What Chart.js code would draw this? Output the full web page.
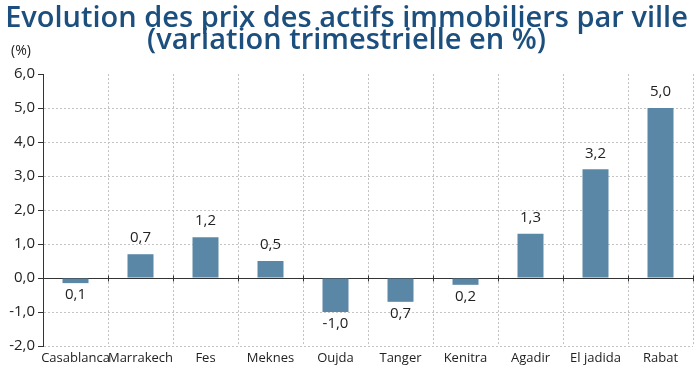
<!DOCTYPE html>
<html>
<head>
<meta charset="utf-8">
<script src="https://cdn.jsdelivr.net/npm/chart.js@4.4.1/dist/chart.umd.min.js"></script>
<style>
  html, body { margin: 0; padding: 0; background: #fff; }
  #wrap { width: 700px; height: 370px; position: relative; }
</style>
</head>
<body>
<div id="wrap"><canvas id="prix"></canvas></div>
<script>
// villes et variations trimestrielles (%)
var villes = ['Casablanca', 'Marrakech', 'Fes', 'Meknes', 'Oujda', 'Tanger', 'Kenitra', 'Agadir', 'El jadida', 'Rabat'];
var variations = [-0.15, 0.7, 1.2, 0.5, -1.0, -0.7, -0.2, 1.3, 3.2, 5.0];
// etiquettes telles qu'elles apparaissent sur le graphique
var etiquettes = ['0,1', '0,7', '1,2', '0,5', '-1,0', '0,7', '0,2', '1,3', '3,2', '5,0'];
var yMin = -2, yMax = 6, yPas = 1;

var police = "'Open Sans', 'Noto Sans', sans-serif";

// ligne du zero + valeurs au-dessus / en dessous des barres
var pluginValeurs = {
  id: 'valeurs',
  beforeDatasetsDraw: function(chart) {
    var ctx = chart.ctx, y = chart.scales.y;
    var y0 = Math.round(y.getPixelForValue(0)) + 0.5;
    ctx.save();
    ctx.strokeStyle = '#333';
    ctx.lineWidth = 1;
    ctx.beginPath();
    ctx.moveTo(chart.chartArea.left, y0);
    ctx.lineTo(chart.chartArea.right, y0);
    ctx.stroke();
    // petites graduations aux separations
    var pas = (chart.chartArea.right - chart.chartArea.left) / villes.length;
    for (var i = 1; i <= villes.length; i++) {
      var xs = Math.round(chart.chartArea.left + i * pas) + 0.5;
      ctx.beginPath();
      ctx.moveTo(xs, y0 - 3);
      ctx.lineTo(xs, y0 + 3);
      ctx.stroke();
    }
    ctx.restore();
  },
  afterDatasetsDraw: function(chart) {
    var ctx = chart.ctx;
    var meta = chart.getDatasetMeta(0);
    ctx.save();
    ctx.font = '15px ' + police;
    ctx.fillStyle = '#222';
    ctx.textAlign = 'center';
    ctx.textBaseline = 'middle';
    meta.data.forEach(function(bar, i) {
      var v = variations[i];
      var ty = v >= 0 ? bar.y - 16 : bar.y + 12;
      ctx.fillText(etiquettes[i], bar.x, ty);
    });
    ctx.restore();
  }
};

var ctx = document.getElementById('prix').getContext('2d');
new Chart(ctx, {
  type: 'bar',
  data: {
    labels: villes,
    datasets: [{
      data: variations,
      backgroundColor: '#5b87a6',
      categoryPercentage: 1,
      barPercentage: 0.4
    }]
  },
  options: {
    responsive: true,
    maintainAspectRatio: false,
    animation: false,
    layout: { padding: { left: 0, right: 7, top: 0, bottom: 0 } },
    plugins: {
      legend: { display: false },
      tooltip: { enabled: false },
      title: {
        display: true,
        text: ['Evolution des prix des actifs immobiliers par ville', '(variation trimestrielle en %)'],
        color: '#1c4f7e',
        font: { family: police, size: 29, weight: '600', lineHeight: 0.76 },
        padding: { top: 8, bottom: 22 }
      }
    },
    scales: {
      x: {
        grid: {
          offset: true,
          color: '#c0c0c0',
          drawTicks: false
        },
        border: { display: false, dash: [2, 2] },
        ticks: {
          color: '#222',
          font: { family: police, size: 13 },
          padding: 4,
          maxRotation: 0,
          autoSkip: false
        },
        afterFit: function(scale) { scale.height = 24; }
      },
      y: {
        min: yMin,
        max: yMax,
        grid: {
          color: function(c) {
            if (c.tick.value === 0 || c.tick.value === yMax) return 'rgba(0,0,0,0)';
            return '#c4c4c4';
          },
          tickColor: '#333',
          tickLength: 5
        },
        border: { display: true, color: '#333', width: 1, dash: [2, 2] },
        ticks: {
          stepSize: yPas,
          color: '#222',
          font: { family: police, size: 15 },
          padding: 3,
          callback: function(v) { return v.toFixed(1).replace('.', ','); }
        },
        afterFit: function(scale) { scale.width = 43; }
      }
    }
  },
  plugins: [pluginValeurs, {
    id: 'unite',
    afterDraw: function(chart) {
      var c = chart.ctx;
      c.save();
      c.font = '14px ' + police;
      c.fillStyle = '#222';
      c.textAlign = 'left';
      c.textBaseline = 'middle';
      c.fillText('(%)', 11, 51);
      c.restore();
    }
  }]
});
</script>
</body>
</html>
